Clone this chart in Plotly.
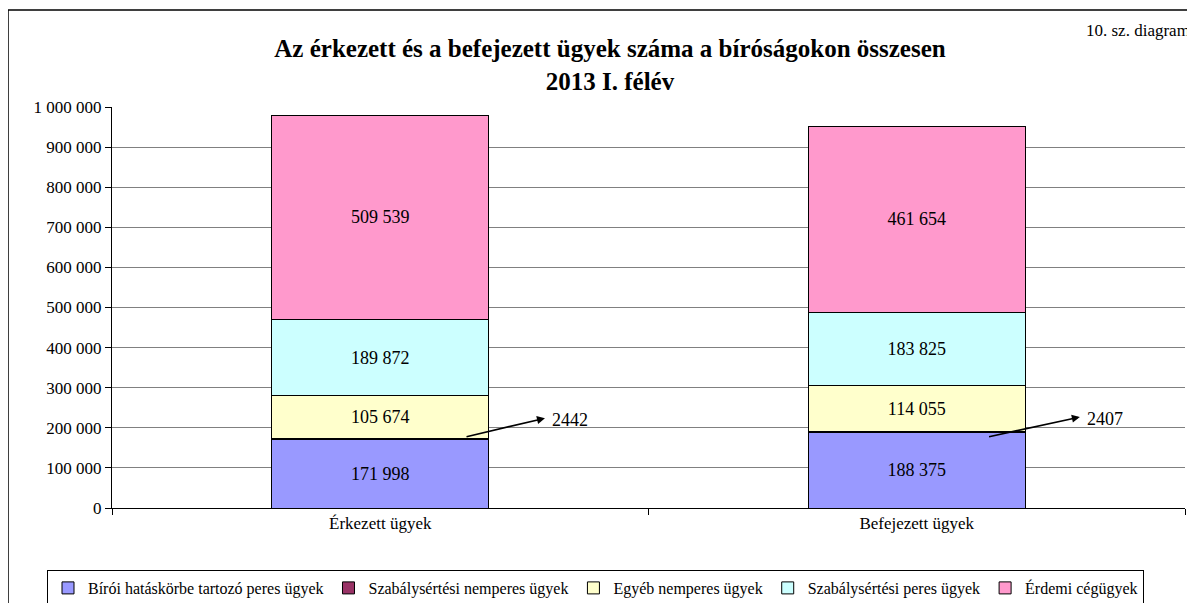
import plotly.graph_objects as go

categories = ["Érkezett ügyek", "Befejezett ügyek"]
series_names = [
    "Bírói hatáskörbe tartozó peres ügyek",
    "Szabálysértési nemperes ügyek",
    "Egyéb nemperes ügyek",
    "Szabálysértési peres ügyek",
    "Érdemi cégügyek",
]
biroi = [171998, 188375]
szab_nemperes = [2442, 2407]
egyeb_nemperes = [105674, 114055]
szab_peres = [189872, 183825]
erdemi = [509539, 461654]
colors = ["#9999FF", "#993366", "#FFFFCC", "#CCFFFF", "#FF99CC"]
ytick_vals = [0, 100000, 200000, 300000, 400000, 500000, 600000, 700000, 800000, 900000, 1000000]

FONT = "Liberation Serif"

# screen-pixel helpers (plot area: x 112..1185, y 107..508)
def px(xs):
    return (xs - 112) / 1073


def py(ys):
    return (508 - ys) / 401


def fmt(v):
    return f"{v:,}".replace(",", " ")


fig = go.Figure()
all_series = [biroi, szab_nemperes, egyeb_nemperes, szab_peres, erdemi]
for name, vals, col in zip(series_names, all_series, colors):
    show_text = vals is not szab_nemperes
    fig.add_trace(go.Bar(
        x=categories, y=vals, name=name,
        marker=dict(color=col, line=dict(color="black", width=1)),
        text=[fmt(v) for v in vals] if show_text else None,
        textposition="inside" if show_text else "none",
        insidetextanchor="middle",
        textfont=dict(color="black", size=18, family=FONT),
        hoverinfo="name+y",
    ))

# arrows for the small segment (offsets relative to category index)
arrow_specs = [
    (0, 0.158, 177000, 0.307, 224000, 0.316),
    (1, 0.132, 177000, 0.304, 227000, 0.313),
]
for idx, tx, ty, hx, hy, lx in arrow_specs:
    fig.add_annotation(
        x=idx + hx, y=hy, ax=idx + tx, ay=ty, xref="x", yref="y", axref="x", ayref="y",
        text="", showarrow=True, arrowhead=2, arrowsize=1, arrowwidth=1.6,
        arrowcolor="black", standoff=0, startstandoff=0,
    )
    fig.add_annotation(
        x=idx + lx, y=hy - 5000, xref="x", yref="y", text=str(szab_nemperes[idx]),
        showarrow=False, xanchor="left", yanchor="middle",
        font=dict(size=18, family=FONT, color="black"),
    )

# top-right caption
fig.add_annotation(
    x=px(1192), y=py(30), xref="paper", yref="paper", text="10. sz. diagram",
    showarrow=False, xanchor="right", yanchor="middle",
    font=dict(size=17, family=FONT, color="black"),
)

# outer border
fig.add_shape(
    type="rect", xref="paper", yref="paper",
    x0=px(8), x1=px(1300), y0=py(700), y1=py(10),
    line=dict(color="black", width=1.5), fillcolor="rgba(0,0,0,0)", layer="below",
)

fig.update_layout(
    barmode="stack",
    bargap=0.595,
    width=1195, height=603,
    margin=dict(l=104, r=18, t=99, b=103, autoexpand=False),
    paper_bgcolor="white", plot_bgcolor="white",
    font=dict(family=FONT, color="black", size=17),
    title=dict(
        text="<b>Az érkezett és a befejezett ügyek száma a bíróságokon összesen<br>2013 I. félév</b>",
        x=602 / 1195, xanchor="center", y=1 - 49 / 603, yanchor="middle",
        font=dict(size=25, family=FONT, color="black"),
    ),
    showlegend=True,
    legend=dict(
        orientation="h", xref="paper", yref="paper",
        x=px(47), xanchor="left",
        y=py(570), yanchor="top",
        bordercolor="black", borderwidth=1,
        font=dict(size=16, family=FONT), traceorder="normal",
        itemwidth=30, tracegroupgap=0,
    ),
    xaxis=dict(
        showline=True, linecolor="black", linewidth=1,
        ticks="outside", tickson="boundaries", ticklen=6, tickcolor="black",
        tickfont=dict(size=17, family=FONT), showgrid=False,
    ),
    yaxis=dict(
        range=[0, 1000000], tickvals=ytick_vals,
        ticktext=[fmt(v) for v in ytick_vals],
        showline=True, linecolor="black", linewidth=1,
        ticks="outside", ticklen=6, tickcolor="black",
        showgrid=True, gridcolor="#808080", gridwidth=1,
        tickfont=dict(size=17, family=FONT), zeroline=False,
    ),
    hovermode="closest",
)

fig.write_html("out.html")
